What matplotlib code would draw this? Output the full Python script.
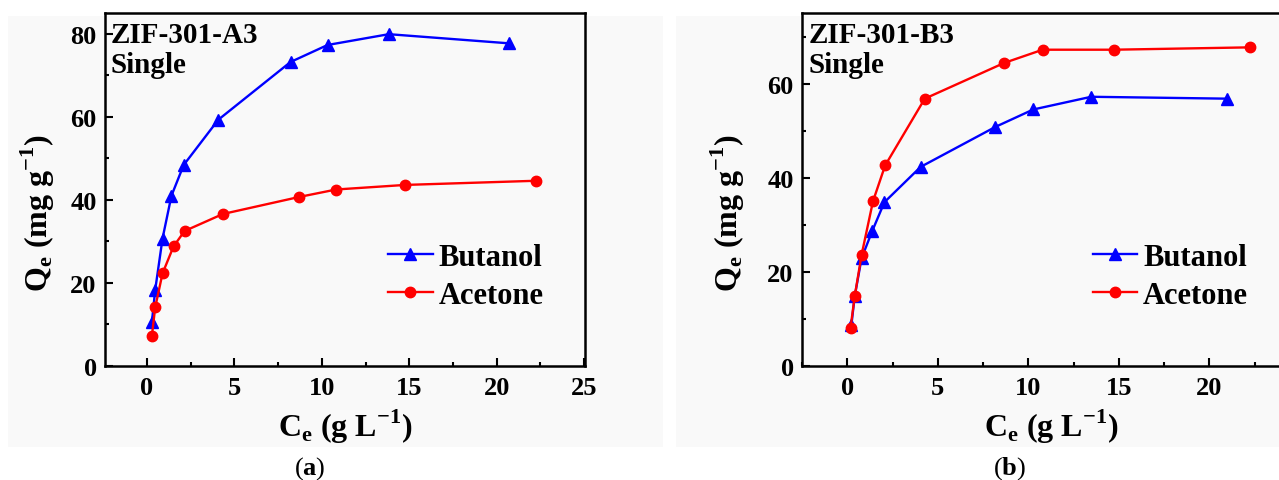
import matplotlib
matplotlib.use("Agg")
import matplotlib.pyplot as plt
from matplotlib.patches import Rectangle
from matplotlib.ticker import MultipleLocator, FixedLocator, FixedFormatter

plt.rcParams['font.family'] = ['Liberation Serif', 'DejaVu Serif']
plt.rcParams['font.weight'] = 'bold'
plt.rcParams['mathtext.fontset'] = 'custom'
plt.rcParams['mathtext.rm'] = 'Liberation Serif'
plt.rcParams['mathtext.bf'] = 'Liberation Serif:bold'

# ---- data (a) ZIF-301-A3 ----
a_but_x = [0.28, 0.47, 0.89, 1.40, 2.10, 4.08, 8.21, 10.33, 13.83, 20.69]
a_but_y = [10.5, 18.3, 30.7, 41.0, 48.4, 59.3, 73.2, 77.3, 79.9, 77.7]
a_ace_x = [0.28, 0.47, 0.89, 1.52, 2.15, 4.34, 8.70, 10.82, 14.76, 22.22]
a_ace_y = [7.2, 14.1, 22.3, 28.8, 32.5, 36.6, 40.7, 42.5, 43.6, 44.6]

# ---- data (b) ZIF-301-B3 ----
b_but_x = [0.23, 0.41, 0.79, 1.37, 2.05, 4.05, 8.18, 10.27, 13.47, 20.95]
b_but_y = [8.8, 14.8, 22.9, 28.6, 34.8, 42.3, 50.8, 54.5, 57.2, 56.8]
b_ace_x = [0.18, 0.41, 0.79, 1.42, 2.09, 4.28, 8.67, 10.79, 14.71, 22.23]
b_ace_y = [8.1, 14.8, 23.6, 35.0, 42.6, 56.8, 64.4, 67.2, 67.2, 67.7]

series_names = ["Butanol", "Acetone"]
panel_titles = ["ZIF-301-A3", "ZIF-301-B3"]
panel_sub = "Single"
x_ticks = [0, 5, 10, 15, 20, 25]
x_ticklabels_a = ["0", "5", "10", "15", "20", "25"]
x_ticklabels_b = ["0", "5", "10", "15", "20", ""]
xlabel = r"C$_\mathregular{e}$ (g L$^\mathregular{-1}$)"
ylabel = r"Q$_\mathregular{e}$ (mg g$^\mathregular{-1}$)"

W, H = 1279, 481
fig = plt.figure(figsize=(W / 100, H / 100), dpi=100)
fig.patch.set_facecolor('white')

bg = '#f9f9f9'
for (x0, x1) in [(8, 663), (676, 1279)]:
    fig.patches.append(Rectangle((x0 / W, 1 - 448 / H), (x1 - x0) / W, (448 - 17) / H,
                                 transform=fig.transFigure, facecolor=bg,
                                 edgecolor='none', zorder=-10))

def px_axes(left, right, top, bottom):
    return [left / W, 1 - bottom / H, (right - left) / W, (bottom - top) / H]

ax1 = fig.add_axes(px_axes(105, 585, 14, 367))
ax2 = fig.add_axes(px_axes(802, 1300, 14, 367))

panels = [
    (ax1, a_but_x, a_but_y, a_ace_x, a_ace_y, (-2.4, 25.05), (0, 85), x_ticklabels_a, 0.59),
    (ax2, b_but_x, b_but_y, b_ace_x, b_ace_y, (-2.5, 25.0), (0, 75), x_ticklabels_b, 0.584),
]

for i, (ax, bx, by, cx, cy, xl, yl, xtl, legx) in enumerate(panels):
    ax.set_facecolor('none')
    ax.plot(bx, by, color='#0000ff', marker='^', ms=8.5, lw=1.7, label=series_names[0])
    ax.plot(cx, cy, color='#ff0000', marker='o', ms=7.5, lw=1.7, label=series_names[1])
    ax.set_xlim(*xl)
    ax.set_ylim(*yl)
    ax.xaxis.set_major_locator(FixedLocator(x_ticks))
    ax.xaxis.set_major_formatter(FixedFormatter(xtl))
    ax.xaxis.set_minor_locator(MultipleLocator(2.5))
    ax.yaxis.set_major_locator(MultipleLocator(20))
    ax.yaxis.set_minor_locator(MultipleLocator(10))
    ax.tick_params(which='both', direction='in', width=1.5, labelsize=19)
    ax.tick_params(which='major', length=5.5, pad=6)
    ax.tick_params(which='minor', length=2.8)
    ax.tick_params(axis='x', which='major', pad=7)
    for s in ax.spines.values():
        s.set_linewidth(1.8)
    ax.set_xlabel(xlabel, fontsize=23, fontweight='bold')
    ax.set_ylabel(ylabel, fontsize=23, fontweight='bold')
    ax.xaxis.set_label_coords(0.5, -0.115)
    ax.yaxis.set_label_coords(-0.10 if i == 0 else -0.11, 0.435)
    ax.text(0.0125, 0.918, panel_titles[i], transform=ax.transAxes, fontsize=21,
            fontweight='bold', ha='left', va='baseline')
    ax.text(0.0125, 0.833, panel_sub, transform=ax.transAxes, fontsize=21,
            fontweight='bold', ha='left', va='baseline')
    ax.legend(loc='center left', bbox_to_anchor=(legx, 0.254), frameon=False,
              prop={'size': 22, 'weight': 'bold'}, handlelength=1.45,
              handletextpad=0.2, labelspacing=0.3, borderpad=0, borderaxespad=0)

fig.text(310 / W, 1 - 475 / H, r"($\mathbf{a}$)", fontsize=19, fontweight='normal',
         ha='center', va='baseline')
fig.text(1010 / W, 1 - 475 / H, r"($\mathbf{b}$)", fontsize=19, fontweight='normal',
         ha='center', va='baseline')

fig.savefig("out.png", dpi=100, facecolor='white')
